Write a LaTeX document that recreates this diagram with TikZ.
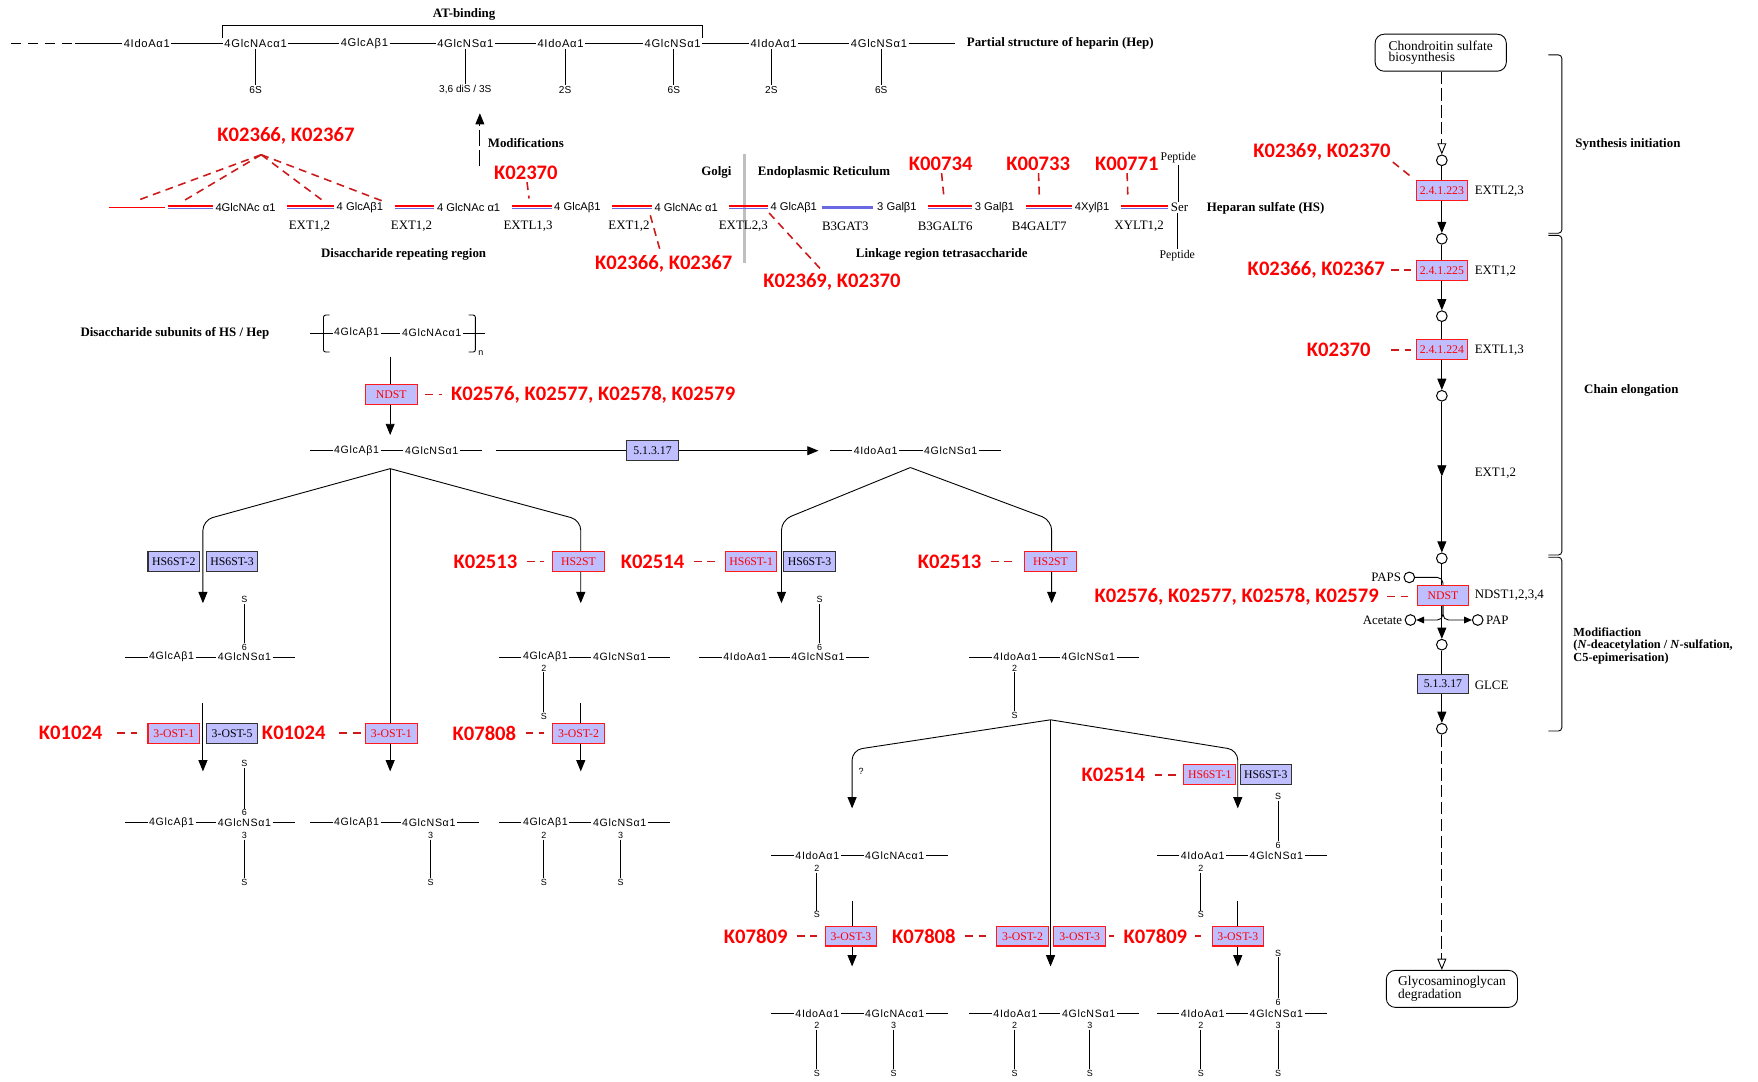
\documentclass[tikz,border=0pt]{standalone}
\usepackage{fontspec}
\setmainfont{Liberation Serif}
\newfontfamily\sugarfont{Liberation Sans}[LetterSpace=6]
\newfontfamily\chainfont{Liberation Sans}
\newfontfamily\kofont{Carlito}
\usetikzlibrary{arrows.meta,positioning,calc}

\definecolor{enzfill}{RGB}{191,191,255}
\definecolor{kored}{RGB}{255,0,0}
\definecolor{linkred}{RGB}{205,25,25}
\definecolor{gtblue}{RGB}{105,105,225}

% disaccharide unit: name, y, x left, left residue, x right, right residue
\newcommand{\unitrow}[6]{%
  \node[sugar] (#1a) at (#3,#2) {#4};
  \node[sugar] (#1b) at (#5,#2) {#6};
  \draw (#1a.west) -- ++(-20,0);
  \draw (#1a.east) -- (#1b.west);
  \draw (#1b.east) -- ++(20,0);}

% sulfate branch: name, x, y of position number, number, y of S
\newcommand{\sulfo}[5]{%
  \node[subst] (#1n) at (#2,#3) {#4};
  \node[subst] (#1s) at (#2,#5) {S};
  \draw (#1n) -- (#1s);}

% glycosyltransferase step in the HS chain (red over blue)
\newcommand{\gtseg}[2]{%
  \draw[gtblue, line width=1.3pt, shorten <=9pt, shorten >=1pt] ($(#1)+(0,1.1)$) -- ($(#2)+(0,1.1)$);
  \draw[red, line width=1.4pt, shorten <=9pt, shorten >=1pt] ($(#1)+(0,-1.1)$) -- ($(#2)+(0,-1.1)$);}

\begin{document}
\begin{tikzpicture}[x=1pt, y=-1pt, line width=0.8pt]

		\tikzstyle{sugar}=[font=\sugarfont\fontsize{9.5}{10}\selectfont, inner sep=1pt]
		\tikzstyle{topres}=[font=\sugarfont\fontsize{10}{10}\selectfont, inner sep=1pt]
		\tikzstyle{hsres}=[font=\chainfont\fontsize{10}{10}\selectfont, inner sep=1pt]
		\tikzstyle{subst}=[font=\chainfont\fontsize{8}{8}\selectfont, inner sep=0.6pt]
		\tikzstyle{gene}=[font=\fontsize{11.5}{12}\selectfont, inner sep=1pt]
		\tikzstyle{heading}=[font=\bfseries\fontsize{11.5}{12}\selectfont, inner sep=1pt]
		\tikzstyle{ko}=[font=\kofont\bfseries\fontsize{18.4}{19}\selectfont, text=kored, inner sep=1pt]
		\tikzstyle{enz}=[rectangle, draw=red!90, fill=enzfill, text=red, font=\fontsize{10.5}{10}\selectfont, minimum width=46pt, minimum height=17.5pt, inner sep=0.5pt, line width=0.9pt]
		\tikzstyle{enzk}=[enz, draw=black!80, text=black]
		\tikzstyle{cpd}=[circle, draw, fill=white, minimum size=9.5pt, inner sep=0pt, line width=0.9pt]
		\tikzstyle{mapbox}=[rectangle, rounded corners=8pt, draw, fill=white, align=left, font=\fontsize{12}{10}\selectfont, minimum width=117pt, minimum height=33pt]
		\tikzstyle{kline}=[linkred, line width=1.4pt, dash pattern=on 7pt off 5pt, shorten <=7pt, shorten >=7pt]
		\tikzstyle{arr}=[-{Triangle[length=10pt,width=8pt]}]
		\tikzstyle{oarr}=[-{Triangle[open,length=10pt,width=8pt]}, dash pattern=on 11pt off 4pt]

		\useasboundingbox[fill=white] (0,0) rectangle (1568,965);

		% Partial structure of heparin
		\node[topres] (h1) at (131,39) {4IdoAα1};
		\node[topres] (h2) at (228,39) {4GlcNAcα1};
		\node[topres] (h3) at (325,39) {4GlcAβ1};
		\node[topres] (h4) at (415,39) {4GlcNSα1};
		\node[topres] (h5) at (500,39) {4IdoAα1};
		\node[topres] (h6) at (600,39) {4GlcNSα1};
		\node[topres] (h7) at (690,39) {4IdoAα1};
		\node[topres] (h8) at (784,39) {4GlcNSα1};
		\coordinate (hd0) at (10,39);
		\coordinate (hd1) at (67,39);
		\coordinate (hd9) at (852,39);
		\draw[dash pattern=on 9pt off 6pt] (hd0) -- (hd1);
		\draw (hd1) -- (h1);
		\draw (h1) -- (h2);
		\draw (h2) -- (h3);
		\draw (h3) -- (h4);
		\draw (h4) -- (h5);
		\draw (h5) -- (h6);
		\draw (h6) -- (h7);
		\draw (h7) -- (h8);
		\draw (h8) -- (hd9);
		\node[heading, anchor=west] (hep) at (861,39) {Partial structure of heparin (Hep)};

		\node[subst, font=\chainfont\fontsize{9}{9}\selectfont] (hsub2) at (228,80) {6S};
		\node[subst, font=\chainfont\fontsize{9}{9}\selectfont] (hsub4) at (415,80) {3,6 diS / 3S};
		\node[subst, font=\chainfont\fontsize{9}{9}\selectfont] (hsub5) at (504,80) {2S};
		\node[subst, font=\chainfont\fontsize{9}{9}\selectfont] (hsub6) at (601,80) {6S};
		\node[subst, font=\chainfont\fontsize{9}{9}\selectfont] (hsub7) at (688,80) {2S};
		\node[subst, font=\chainfont\fontsize{9}{9}\selectfont] (hsub8) at (786,80) {6S};
		\draw (hsub2) -- (hsub2 |- h2.south);
		\draw (hsub4) -- (hsub4 |- h4.south);
		\draw (hsub5) -- (hsub5 |- h5.south);
		\draw (hsub6) -- (hsub6 |- h6.south);
		\draw (hsub7) -- (hsub7 |- h7.south);
		\draw (hsub8) -- (hsub8 |- h8.south);

		\node[heading] (atb) at (414,13) {AT-binding};
		\draw (h2.north west) |- ([yshift=-3pt]atb.south) -| (h6.north east);

		% Heparan sulfate chain
		\node[hsres] (r1) at (219,185) {4GlcNAc α1};
		\node[hsres] (r2) at (321,185) {4 GlcAβ1};
		\node[hsres] (r3) at (418,185) {4 GlcNAc α1};
		\node[hsres] (r4) at (515,185) {4 GlcAβ1};
		\node[hsres] (r5) at (612,185) {4 GlcNAc α1};
		\node[hsres] (r6) at (708,185) {4 GlcAβ1};
		\node[hsres] (r7) at (800,185) {3 Galβ1};
		\node[hsres] (r8) at (887,185) {3 Galβ1};
		\node[hsres] (r9) at (974,185) {4Xylβ1};
		\node[gene] (ser) at (1052,185) {Ser};
		\coordinate (r0a) at (97,185);
		\coordinate (r0b) at (147,185);
		\coordinate (r0c) at (141,185);

		\draw[black!25, line width=3pt] (664,137) -- (664,235);

		\draw[red, line width=1.5pt] (r0a) -- (r0b);
		\gtseg{r0c}{r1.west}
		\gtseg{r1.east}{r2.west}
		\gtseg{r2.east}{r3.west}
		\gtseg{r3.east}{r4.west}
		\gtseg{r4.east}{r5.west}
		\gtseg{r5.east}{r6.west}
		\draw[gtblue, line width=2.6pt, shorten <=3pt, shorten >=2pt] (r6.east) -- (r7.west);
		\gtseg{r7.east}{r8.west}
		\gtseg{r8.east}{r9.west}
		\gtseg{r9.east}{ser.west}

		\node[gene] (g1) at (276,202) {EXT1,2};
		\node[gene] (g2) at (367,202) {EXT1,2};
		\node[gene] (g3) at (471,202) {EXTL1,3};
		\node[gene] (g4) at (561,202) {EXT1,2};
		\node[gene] (g5) at (663,202) {EXTL2,3};
		\node[gene] (g6) at (754,202) {B3GAT3};
		\node[gene] (g7) at (843,202) {B3GALT6};
		\node[gene] (g8) at (927,202) {B4GALT7};
		\node[gene] (g9) at (1016,202) {XYLT1,2};

		\node[gene, font=\fontsize{10.5}{11}\selectfont] (pep1) at (1051,141) {Peptide};
		\node[gene, font=\fontsize{10.5}{11}\selectfont] (pep2) at (1050,228) {Peptide};
		\draw (pep1) -- (pep1 |- ser.north);
		\draw (pep2) -- (pep2 |- ser.south);
		\node[heading, anchor=west] (hsl) at (1075,186) {Heparan sulfate (HS)};

		\node[heading] (golgi) at (639,154) {Golgi};
		\node[heading] (er) at (735,154) {Endoplasmic Reticulum};
		\node[heading] (drr) at (360,227) {Disaccharide repeating region};
		\node[heading] (lrt) at (840,227) {Linkage region tetrasaccharide};
		\node[heading] (modt) at (469,128) {Modifications};
		\coordinate (mda) at (428,148);
		\coordinate (mdb) at (428,101);
		\draw[arr, dash pattern=on 14pt off 4pt] (mda) -- (mdb);

		% KO numbers along the chain
		\node[ko] (k1) at (255,121) {K02366, K02367};
		\coordinate (kap) at (233,138);
		\coordinate (kt1) at (122,179);
		\coordinate (kt2) at (164,179);
		\coordinate (kt3) at (288,179);
		\coordinate (kt4) at (343,180);
		\draw[kline, shorten <=0pt, shorten >=0pt] (kap) -- (kt1);
		\draw[kline, shorten <=0pt, shorten >=0pt] (kap) -- (kt2);
		\draw[kline, shorten <=0pt, shorten >=0pt] (kap) -- (kt3);
		\draw[kline, shorten <=0pt, shorten >=0pt] (kap) -- (kt4);
		\node[ko] (k2) at (469,154) {K02370};
		\coordinate (kt5) at (472,178);
		\draw[kline, shorten <=1pt, shorten >=1pt] (k2) -- (kt5);
		\node[ko] (k3) at (592,235) {K02366, K02367};
		\coordinate (kt6) at (580,192);
		\draw[kline, shorten <=0pt, shorten >=2pt] (kt6) -- (k3);
		\node[ko] (k4) at (742,251) {K02369, K02370};
		\coordinate (kt7) at (686,190);
		\draw[kline, shorten <=0pt, shorten >=2pt] (kt7) -- (k4);
		\node[ko] (k5) at (839,146) {K00734};
		\node[ko] (k6) at (926,146) {K00733};
		\node[ko] (k7) at (1005,146) {K00771};
		\coordinate (kt8) at (842,177);
		\coordinate (kt9) at (927,176);
		\coordinate (kt10) at (1006,177);
		\draw[kline, shorten <=1pt, shorten >=0pt] (k5) -- (kt8);
		\draw[kline, shorten <=1pt, shorten >=0pt] (k6) -- (kt9);
		\draw[kline, shorten <=1pt, shorten >=0pt] (k7) -- (kt10);

		% Right column: chain synthesis
		\node[mapbox] (csb) at (1285,47) {Chondroitin sulfate\\biosynthesis};
		\node[mapbox] (gagd) at (1295,882) {Glycosaminoglycan\\degradation};
		\node[cpd] (p1) at (1286,143) {};
		\node[cpd] (p2) at (1286,213) {};
		\node[cpd] (p3) at (1286,282) {};
		\node[cpd] (p4) at (1286,353) {};
		\node[cpd] (p5) at (1286,498) {};
		\node[cpd] (p6) at (1286,575) {};
		\node[cpd] (p7) at (1286,650) {};
		\coordinate (pm) at (1286,425);
		\draw[oarr] (p1 |- csb.south) -- (p1);
		\draw[arr] (p1) -- (p2);
		\draw[arr] (p2) -- (p3);
		\draw[arr] (p3) -- (p4);
		\draw[arr] (p4) -- (pm);
		\draw[arr] (pm) -- (p5);
		\draw[arr] (p5) -- (p6);
		\draw[arr] (p6) -- (p7);
		\draw[oarr] (p7) -- (p7 |- gagd.north);

		\node[enz] (e223) at (1286,170) {2.4.1.223};
		\node[enz] (e225) at (1286,241) {2.4.1.225};
		\node[enz] (e224) at (1286,312) {2.4.1.224};
		\node[enz] (ndst2) at (1287,531) {NDST};
		\node[enzk] (glce2) at (1287,610) {5.1.3.17};
		\node[gene, anchor=west] (n223) at (1314,171) {EXTL2,3};
		\node[gene, anchor=west] (n225) at (1314,242) {EXT1,2};
		\node[gene, anchor=west] (n224) at (1314,312) {EXTL1,3};
		\node[gene, anchor=west] (next) at (1314,422) {EXT1,2};
		\node[gene, anchor=west] (nndst) at (1314,531) {NDST1,2,3,4};
		\node[gene, anchor=west] (nglce) at (1314,611) {GLCE};

		\node[cpd] (ps) at (1257,515) {};
		\node[cpd] (ac) at (1258,553) {};
		\node[cpd] (pap) at (1318,553) {};
		\node[gene, anchor=east] (pst) at (1251,515) {PAPS};
		\node[gene, anchor=east] (act) at (1252,553) {Acetate};
		\node[gene, anchor=west] (papt) at (1324,553) {PAP};
		\draw[rounded corners=5pt] (ps) -| (ndst2.north);
		\draw[-{Triangle[length=7pt,width=6pt]}, rounded corners=5pt] (ndst2.south) |- (ac);
		\draw[-{Triangle[length=7pt,width=6pt]}, rounded corners=5pt] (ndst2.south) |- (pap);

		\node[ko] (kr1) at (1179,135) {K02369, K02370};
		\node[ko] (kr2) at (1174,241) {K02366, K02367};
		\node[ko] (kr3) at (1194,312) {K02370};
		\node[ko] (kr4) at (1103,532) {K02576, K02577, K02578, K02579};
		\draw[kline, shorten <=1pt, shorten >=3pt] (kr1.south east) -- (e223.north west);
		\draw[kline, shorten <=4pt, shorten >=4pt] (kr2.east) -- (kr2.east -| e225.west);
		\draw[kline, shorten <=17pt, shorten >=4pt] (kr3.east) -- (kr3.east -| e224.west);
		\draw[kline, shorten <=6pt, shorten >=5pt] (kr4.east) -- (kr4.east -| ndst2.west);

		\draw[rounded corners=3pt] (1381,49) -| (1393,208) -- (1381,208);
		\draw[rounded corners=3pt] (1381,210) -| (1393,495) -- (1381,495);
		\draw[rounded corners=3pt] (1381,497) -| (1393,652) -- (1381,652);
		\node[heading] (si) at (1452,129) {Synthesis initiation};
		\node[heading] (ce) at (1455,348) {Chain elongation};
		\node[heading, anchor=west, align=left, font=\bfseries\fontsize{11}{11}\selectfont] (mo) at (1402,576) {Modifiaction\\(\textit{N}-deacetylation / \textit{N}-sulfation,\\C5-epimerisation)};

		% Disaccharide subunits and modifications
		\node[heading] (dsu) at (156,297) {Disaccharide subunits of HS / Hep};
		\unitrow{un}{297}{318}{4GlcAβ1}{385}{4GlcNAcα1}
		\draw[rounded corners=2pt] (294,281) -| (288.5,314) -- (294,314);
		\draw[rounded corners=2pt] (418,281) -| (424,314) -- (418,314);
		\node[subst] (nrep) at (429,315) {n};

		\coordinate (na) at (348,318);
		\coordinate (nb) at (348,388);
		\draw[arr] (na) -- (nb);
		\node[enz] (ndst1) at (349,352) {NDST};
		\node[ko] (kn) at (529,352) {K02576, K02577, K02578, K02579};
		\draw[kline] (ndst1.east) -- (ndst1.east -| kn.west);

		\unitrow{ns}{402}{318}{4GlcAβ1}{385}{4GlcNSα1}
		\coordinate (epa) at (442,402);
		\coordinate (epb) at (730,402);
		\draw[arr] (epa) -- (epb);
		\node[enzk] (glce1) at (582,402) {5.1.3.17};
		\unitrow{ido}{402}{781}{4IdoAα1}{848}{4GlcNSα1}

		% GlcA branch
		\coordinate (ta) at (348,418);
		\coordinate (tal) at (181,538);
		\coordinate (tar) at (518,538);
		\coordinate (tam) at (348,688);
		\draw[arr, rounded corners=9pt] (ta) -- (181,464) -- (tal);
		\draw[arr, rounded corners=9pt] (ta) -- (518,464) -- (tar);
		\draw[arr] (ta) -- (tam);
		\node[enzk] (hs62a) at (155,501) {HS6ST-2};
		\node[enzk] (hs63a) at (207,501) {HS6ST-3};
		\node[enz] (hs2a) at (516,501) {HS2ST};
		\node[ko] (ka1) at (433,501) {K02513};
		\draw[kline] (ka1.east) -- (ka1.east -| hs2a.west);

		\unitrow{lsix}{586}{153}{4GlcAβ1}{218}{4GlcNSα1}
		\sulfo{lsixs}{218}{577}{6}{535}
		\unitrow{ltwo}{586}{486.5}{4GlcAβ1}{552.7}{4GlcNSα1}
		\sulfo{ltwos}{485}{596}{2}{639}

		\coordinate (la1) at (181,627);
		\coordinate (la2) at (181,688);
		\coordinate (ra1) at (518,627);
		\coordinate (ra2) at (518,688);
		\draw[arr] (la1) -- (la2);
		\draw[arr] (ra1) -- (ra2);
		\node[enz] (ost1a) at (155,654) {3-OST-1};
		\node[enzk] (ost5) at (207,654) {3-OST-5};
		\node[enz] (ost1b) at (349,654) {3-OST-1};
		\node[enz] (ost2a) at (516,654) {3-OST-2};
		\node[ko] (kb1) at (63,654) {K01024};
		\node[ko] (kb2) at (262,654) {K01024};
		\node[ko] (kb3) at (432,654) {K07808};
		\draw[kline, shorten <=12pt, shorten >=9pt] (kb1.east) -- (kb1.east -| ost1a.west);
		\draw[kline, shorten <=11pt, shorten >=4pt] (kb2.east) -- (kb2.east -| ost1b.west);
		\draw[kline] (kb3.east) -- (kb3.east -| ost2a.west);

		\unitrow{lsixthree}{734}{153}{4GlcAβ1}{218}{4GlcNSα1}
		\sulfo{lst6}{218}{725}{6}{681}
		\sulfo{lst3}{218}{745}{3}{787}
		\unitrow{lthree}{734}{318}{4GlcAβ1}{382.5}{4GlcNSα1}
		\sulfo{lth3}{384}{745}{3}{787}
		\unitrow{ltwothree}{734}{486.5}{4GlcAβ1}{552.7}{4GlcNSα1}
		\sulfo{ltt2}{485}{745}{2}{787}
		\sulfo{ltt3}{553.5}{745}{3}{787}

		% IdoA branch
		\coordinate (tb) at (812,417);
		\coordinate (tbl) at (697,538);
		\coordinate (tbr) at (938,538);
		\draw[arr, rounded corners=9pt] (tb) -- (697,464) -- (tbl);
		\draw[arr, rounded corners=9pt] (tb) -- (938,464) -- (tbr);
		\node[enz] (hs61a) at (670,501) {HS6ST-1};
		\node[enzk] (hs63b) at (722,501) {HS6ST-3};
		\node[enz] (hs2b) at (937,501) {HS2ST};
		\node[ko] (kc1) at (582,501) {K02514};
		\node[ko] (kc2) at (847,501) {K02513};
		\draw[kline] (kc1.east) -- (kc1.east -| hs61a.west);
		\draw[kline] (kc2.east) -- (kc2.east -| hs2b.west);

		\unitrow{isix}{586}{664.7}{4IdoAα1}{729.6}{4GlcNSα1}
		\sulfo{isixs}{731}{577}{6}{535}
		\unitrow{itwo}{586}{905.6}{4IdoAα1}{970.7}{4GlcNSα1}
		\sulfo{itwos}{905}{596}{2}{638}

		\coordinate (tc) at (937,642);
		\coordinate (tcl) at (760,721);
		\coordinate (tcr) at (1104,721);
		\coordinate (tcm) at (937,862);
		\draw[arr, rounded corners=9pt] (tc) -- (760,669) -- (tcl);
		\draw[arr, rounded corners=9pt] (tc) -- (1104,669) -- (tcr);
		\draw[arr] (tc) -- (tcm);
		\node[subst] (qm) at (768,688) {?};
		\node[enz] (hs61b) at (1079,691) {HS6ST-1};
		\node[enzk] (hs63c) at (1129,691) {HS6ST-3};
		\node[ko] (kd1) at (993,691) {K02514};
		\draw[kline] (kd1.east) -- (kd1.east -| hs61b.west);

		\unitrow{iac}{763}{729}{4IdoAα1}{798}{4GlcNAcα1}
		\sulfo{iacs}{728.5}{774.5}{2}{816}
		\unitrow{itsix}{763}{1072.7}{4IdoAα1}{1138.4}{4GlcNSα1}
		\sulfo{its2}{1071}{774.5}{2}{816}
		\sulfo{its6}{1140}{754}{6}{710.5}

		\coordinate (lc1) at (760,804);
		\coordinate (lc2) at (760,862);
		\coordinate (rc1) at (1104,804);
		\coordinate (rc2) at (1104,862);
		\draw[arr] (lc1) -- (lc2);
		\draw[arr] (rc1) -- (rc2);
		\node[enz] (ost3a) at (759,835) {3-OST-3};
		\node[enz] (ost2b) at (912,835) {3-OST-2};
		\node[enz] (ost3b) at (963,835) {3-OST-3};
		\node[enz] (ost3c) at (1104,835) {3-OST-3};
		\node[ko] (ke1) at (674,835) {K07809};
		\node[ko] (ke2) at (824,835) {K07808};
		\node[ko] (ke3) at (1030.5,835) {K07809};
		\draw[kline] (ke1.east) -- (ke1.east -| ost3a.west);
		\draw[kline] (ke2.east) -- (ke2.east -| ost2b.west);
		\draw[kline, shorten <=3pt, shorten >=7pt] (ost3b.east) -- (ost3b.east -| ke3.west);
		\draw[kline, shorten <=6pt, shorten >=9pt] (ke3.east) -- (ke3.east -| ost3c.west);

		\unitrow{bl}{904}{729}{4IdoAα1}{798}{4GlcNAcα1}
		\sulfo{bl2}{728.5}{914.5}{2}{957.5}
		\sulfo{bl3}{797}{914.5}{3}{957.5}
		\unitrow{bm}{904}{905.6}{4IdoAα1}{971}{4GlcNSα1}
		\sulfo{bm2}{905}{914.5}{2}{957.5}
		\sulfo{bm3}{972}{914.5}{3}{957.5}
		\unitrow{br}{904}{1072.7}{4IdoAα1}{1138.4}{4GlcNSα1}
		\sulfo{br2}{1071}{914.5}{2}{957.5}
		\sulfo{br3}{1140}{914.5}{3}{957.5}
		\sulfo{br6}{1140}{894}{6}{850}

\end{tikzpicture}
\end{document}
